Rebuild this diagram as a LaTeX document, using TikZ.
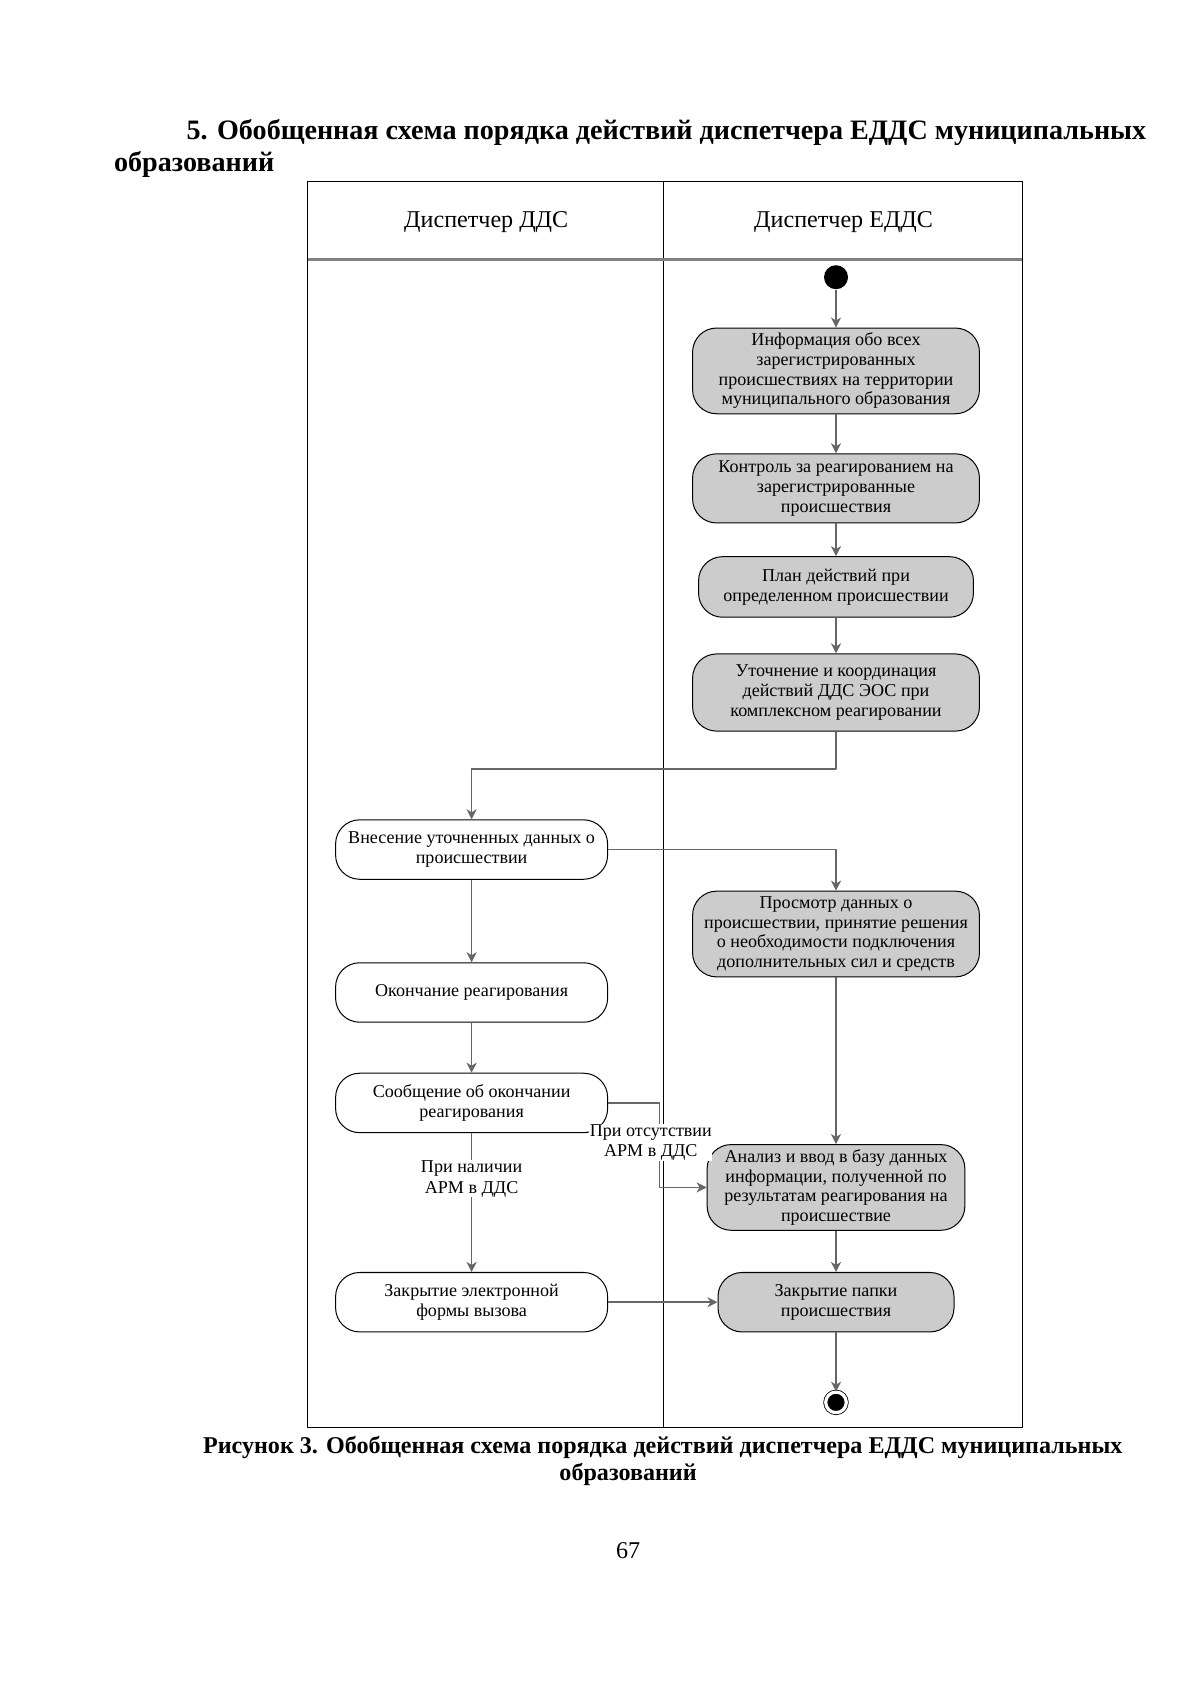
\documentclass[tikz,border=0pt]{standalone}
\usepackage{fontspec}
\setmainfont{Liberation Serif}
\usetikzlibrary{arrows.meta}

\tikzset{
  lane/.style={draw=black, line width=0.5pt},
  act/.style={draw=black, line width=0.5pt, rounded corners=0.42cm, align=center, inner sep=1pt,
    font=\fontsize{9}{9.8}\selectfont},
  eddsact/.style={act, fill=gray!40},
  ddsact/.style={act, fill=white},
  flow/.style={draw=black!60, line width=0.8pt, -{Stealth[length=5pt, width=5pt, inset=1.5pt]}},
  cond/.style={fill=white, inner sep=0.3pt, align=center, font=\fontsize{9}{10}\selectfont}
}

\begin{document}
\begin{tikzpicture}[x=0.01895cm, y=-0.01895cm, line join=round]
  \useasboundingbox (0,0) rectangle (1108,1568);

  % Заголовок
  \node[anchor=west, inner sep=0, font=\bfseries\fontsize{14}{16}\selectfont] (title1) at (172,122)
    {5. Обобщенная схема порядка действий диспетчера ЕДДС муниципальных};
  \node[anchor=west, inner sep=0, font=\bfseries\fontsize{14}{16}\selectfont] (title2) at (105,152)
    {образований};

  % Дорожки
  \draw[lane] (284,168) rectangle (944,1318);
  \draw[lane] (613,168) -- (613,1318);
  \draw[gray, line width=1.4pt] (284,240) -- (944,240);
  \node[font=\fontsize{12}{14}\selectfont] (hdds) at (449,205) {Диспетчер ДДС};
  \node[font=\fontsize{12}{14}\selectfont] (hedds) at (779,205) {Диспетчер ЕДДС};

  % Действия диспетчера ЕДДС
  \node[circle, fill=black, inner sep=0, minimum size=0.42cm] (start) at (772,256) {};
  \node[eddsact, minimum width=5.02cm, minimum height=1.5cm] (info) at (772,342.5)
    {Информация обо всех\\ зарегистрированных\\ происшествиях на территории\\ муниципального образования};
  \node[eddsact, minimum width=5.02cm, minimum height=1.21cm] (control) at (772,451)
    {Контроль за реагированием на\\ зарегистрированные\\ происшествия};
  \node[eddsact, minimum width=4.81cm, minimum height=1.06cm] (plan) at (772,542)
    {План действий при\\ определенном происшествии};
  \node[eddsact, minimum width=5.02cm, minimum height=1.35cm] (coord) at (772,639.5)
    {Уточнение и координация\\ действий ДДС ЭОС при\\ комплексном реагировании};
  \node[eddsact, minimum width=5.02cm, minimum height=1.5cm] (review) at (772,862.5)
    {Просмотр данных о\\ происшествии, принятие решения\\ о необходимости подключения\\ дополнительных сил и средств};
  \node[eddsact, minimum width=4.51cm, minimum height=1.5cm] (analysis) at (772,1096.5)
    {Анализ и ввод в базу данных\\ информации, полученной по\\ результатам реагирования на\\ происшествие};
  \node[eddsact, minimum width=4.13cm, minimum height=1.04cm] (folder) at (772,1202.5)
    {Закрытие папки\\ происшествия};
  \node[circle, fill=black, draw=black, double=white, double distance=1.6pt, line width=0.4pt,
    inner sep=0, minimum size=0.36cm] (finish) at (772,1295) {};

  % Действия диспетчера ДДС
  \node[ddsact, minimum width=4.76cm, minimum height=1.04cm] (entry) at (435.5,784.5)
    {Внесение уточненных данных о\\ происшествии};
  \node[ddsact, minimum width=4.76cm, minimum height=1.04cm] (finishresp) at (435.5,916.5)
    {Окончание реагирования};
  \node[ddsact, minimum width=4.76cm, minimum height=1.04cm] (report) at (435.5,1018.5)
    {Сообщение об окончании\\ реагирования};
  \node[ddsact, minimum width=4.76cm, minimum height=1.04cm] (closeform) at (435.5,1202.5)
    {Закрытие электронной\\ формы вызова};

  % Переходы
  \coordinate (split) at (600,710);
  \coordinate (noarm) at (609,1060);
  \draw[flow] (start) -- (info);
  \draw[flow] (info) -- (control);
  \draw[flow] (control) -- (plan);
  \draw[flow] (plan) -- (coord);
  \draw[flow] (coord.south) |- (split) -| (entry.north);
  \draw[flow] (entry.east) -| (review.north);
  \draw[flow] (entry) -- (finishresp);
  \draw[flow] (finishresp) -- (report);
  \draw[flow] (review) -- (analysis);
  \draw[flow] (report.east) -| (noarm) |- (analysis.west);
  \draw[flow] (report) -- node[cond, pos=0.33] (armyes) {При наличии\\ АРМ в ДДС} (closeform);
  \draw[flow] (closeform) -- (folder);
  \draw[flow] (analysis) -- (folder);
  \draw[flow] (folder) -- (finish);
  \node[cond] (armno) at (601,1055) {При отсутствии\\ АРМ в ДДС};

  % Подпись
  \node[font=\bfseries\fontsize{12}{14}\selectfont] (cap1) at (612,1337)
    {Рисунок 3. Обобщенная схема порядка действий диспетчера ЕДДС муниципальных};
  \node[font=\bfseries\fontsize{12}{14}\selectfont] (cap2) at (580,1362) {образований};
  \node[font=\fontsize{12}{14}\selectfont] (pagenum) at (580,1432) {67};
\end{tikzpicture}
\end{document}
